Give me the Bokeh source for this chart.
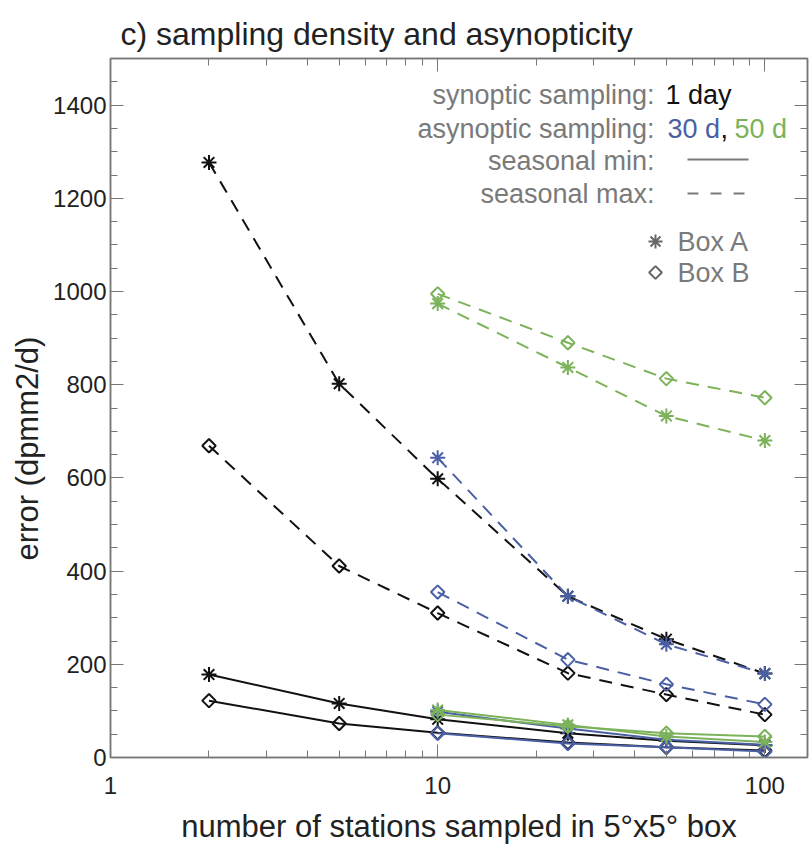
import numpy as np
from bokeh.plotting import figure
from bokeh.models import LogAxis, LinearAxis, FixedTicker, Label, Range1d, Title
from bokeh.embed import file_html
from bokeh.resources import INLINE

# number of stations sampled per 5x5 degree box
stations_day = [2, 5, 10, 25, 50, 100]
stations_asyn = [10, 25, 50, 100]

# synoptic sampling (1 day): error in dpmm2/d
day_boxA_max = [1277, 802, 598, 346, 254, 180]
day_boxB_max = [669, 411, 310, 181, 135, 92]
day_boxA_min = [178, 116, 82, 52, 36, 26]
day_boxB_min = [122, 73, 53, 32, 22, 15]

# asynoptic sampling over 30 days
d30_boxA_max = [643, 346, 243, 180]
d30_boxB_max = [355, 210, 157, 114]
d30_boxA_min = [98, 62, 38, 27]
d30_boxB_min = [52, 30, 22, 13]

# asynoptic sampling over 50 days
d50_boxA_max = [974, 837, 733, 680]
d50_boxB_max = [995, 890, 813, 772]
d50_boxA_min = [102, 70, 45, 33]
d50_boxB_min = [92, 67, 52, 45]

x_ticks = [1, 10, 100]
x_tick_labels = ["1", "10", "100"]
y_ticks = [0, 200, 400, 600, 800, 1000, 1200, 1400]

BLACK = "#111111"
BLUE = "#4b5fa5"
GREEN = "#7cb35a"
GRAY = "#7a7a7a"
FONT = "Liberation Sans"
DASH = "13 9"

X0, X1 = 1, 135
Y0, Y1 = 0, 1500
W, H = 809, 846
BL, BR, BT, BB = 110, 2, 58, 89
FW, FH = W - BL - BR, H - BT - BB

p = figure(width=W, height=H, x_axis_type="log",
           x_range=Range1d(X0, X1), y_range=Range1d(Y0, Y1),
           output_backend="svg", toolbar_location=None,
           min_border_left=BL, min_border_right=BR,
           min_border_top=BT, min_border_bottom=BB)
p.xgrid.visible = False
p.ygrid.visible = False
p.outline_line_color = "#777777"
p.outline_line_width = 1.5
p.background_fill_color = "white"
p.border_fill_color = "white"

p.title.text = "c) sampling density and asynopticity"
p.title.text_font = FONT
p.title.text_font_size = "32px"
p.title.text_font_style = "normal"
p.title.text_color = "#222222"
p.title.vertical_align = "top"
p.title.align = "left"
p.title.offset = 10
p.title.standoff = 10

x_minor = [m * d for d in (1, 10) for m in range(2, 10)]
y_minor = list(range(0, 1501, 50))
xticker = FixedTicker(ticks=x_ticks, minor_ticks=x_minor)
yticker = FixedTicker(ticks=y_ticks, minor_ticks=y_minor)


def style_axis(ax, ticks, labels=True):
    ax.axis_line_color = "#777777"
    ax.axis_line_width = 1.5
    ax.major_tick_line_color = "#777777"
    ax.minor_tick_line_color = "#777777"
    ax.major_tick_in = 13
    ax.major_tick_out = 0
    ax.minor_tick_in = 7
    ax.minor_tick_out = 0
    ax.major_label_text_font = FONT
    ax.major_label_text_color = "#222222"
    if labels:
        ax.major_label_text_font_size = "24px"
    else:
        # mirrored frame axis: ticks only
        ax.major_label_text_font_size = "1px"
        ax.major_label_overrides = {t: "" for t in ticks}
        ax.major_label_standoff = 0


xa = p.xaxis[0]
xa.ticker = xticker
style_axis(xa, x_ticks)
xa.major_label_overrides = {t: s for t, s in zip(x_ticks, x_tick_labels)}
xa.major_label_standoff = 19
xa.axis_label = "number of stations sampled in 5°x5° box"
xa.axis_label_text_font = FONT
xa.axis_label_text_font_size = "31px"
xa.axis_label_text_font_style = "normal"
xa.axis_label_text_color = "#222222"
xa.axis_label_standoff = 12

ya = p.yaxis[0]
ya.ticker = yticker
style_axis(ya, y_ticks)
ya.major_label_standoff = 4

top = LogAxis(ticker=xticker)
style_axis(top, x_ticks, labels=False)
p.add_layout(top, "above")
right = LinearAxis(ticker=yticker)
style_axis(right, y_ticks, labels=False)
p.add_layout(right, "right")

# vertical axis title, starting a little above the frame bottom
p.add_layout(Title(text="error (dpmm2/d)", align="left", offset=197,
                   standoff=12, text_font=FONT, text_font_size="31px",
                   text_font_style="normal", text_color="#222222"), "left")


def series(xs, ys, color, dash, marker):
    kw = dict(line_color=color, line_width=2)
    if dash:
        kw["line_dash"] = dash
    p.line(xs, ys, **kw)
    if marker == "asterisk":
        p.scatter(xs, ys, marker="asterisk", size=15, line_color=color, line_width=2)
    else:
        p.scatter(xs, ys, marker="square", angle=np.pi / 4, size=9.5,
                  line_color=color, line_width=2, fill_color=None)


# seasonal maximum (dashed)
series(stations_day, day_boxA_max, BLACK, DASH, "asterisk")
series(stations_day, day_boxB_max, BLACK, DASH, "diamond")
series(stations_asyn, d30_boxA_max, BLUE, DASH, "asterisk")
series(stations_asyn, d30_boxB_max, BLUE, DASH, "diamond")
series(stations_asyn, d50_boxA_max, GREEN, DASH, "asterisk")
series(stations_asyn, d50_boxB_max, GREEN, DASH, "diamond")

# seasonal minimum (solid)
series(stations_day, day_boxA_min, BLACK, None, "asterisk")
series(stations_day, day_boxB_min, BLACK, None, "diamond")
series(stations_asyn, d30_boxB_min, BLUE, None, "diamond")
series(stations_asyn, d30_boxA_min, BLUE, None, "asterisk")
series(stations_asyn, d50_boxA_min, GREEN, None, "asterisk")
series(stations_asyn, d50_boxB_min, GREEN, None, "diamond")


def at(px, py):
    """Canvas pixel position -> data coordinates (for legend placement)."""
    lx = np.log10(X0) + (px - BL) / FW * (np.log10(X1) - np.log10(X0))
    y = Y0 + (BT + FH - py) / FH * (Y1 - Y0)
    return 10 ** lx, y


def text(px, py, s, color=GRAY, size="27px", align="left"):
    x, y = at(px, py)
    p.add_layout(Label(x=x, y=y, text=s, text_color=color, text_font=FONT,
                       text_font_size=size, text_align=align,
                       text_baseline="middle"))


# legend block
text(654, 94, "synoptic sampling:", align="right")
text(665, 94, "1 day", color=BLACK)
text(654, 128, "asynoptic sampling:", align="right")
text(667, 128, "30 d", color=BLUE)
text(720, 128, ",", color=BLACK)
text(734, 128, "50 d", color=GREEN)
text(654, 160, "seasonal min:", align="right")
text(654, 193, "seasonal max:", align="right")
text(677, 241, "Box A")
text(677, 272, "Box B")

lx0, ly_min = at(687, 159)
lx1, ly_max = at(748, 193)
p.line([lx0, lx1], [ly_min, ly_min], line_color=GRAY, line_width=2)
p.line([lx0, lx1], [ly_max, ly_max], line_color=GRAY, line_width=2, line_dash="11 12")
mx, my_a = at(655, 241)
_, my_b = at(655, 272)
p.scatter([mx], [my_a], marker="asterisk", size=14, line_color="#666666", line_width=2)
p.scatter([mx], [my_b], marker="square", angle=np.pi / 4, size=9,
          line_color="#666666", line_width=2, fill_color=None)

open("out.html", "w").write(file_html(p, INLINE))
